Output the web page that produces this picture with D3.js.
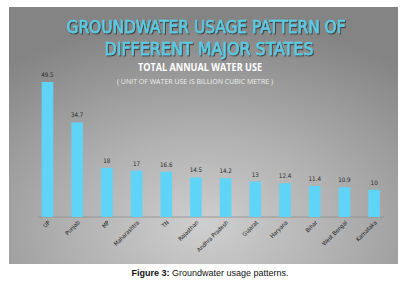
<!DOCTYPE html>
<html>
<head>
<meta charset="utf-8">
<script src="https://cdn.jsdelivr.net/npm/d3@7"></script>
<style>
  body { margin: 0; background: #fff; }
  svg { display: block; }
</style>
</head>
<body>
<div id="chart"></div>
<script>
// data (billion cubic metre)
var states = ["UP", "Punjab", "MP", "Maharashtra", "TN", "Rajasthan", "Andhra Pradesh",
              "Gujarat", "Haryana", "Bihar", "West Bengal", "Karnataka"];
var waterUse = [49.5, 34.7, 18, 17, 16.6, 14.5, 14.2, 13, 12.4, 11.4, 10.9, 10];
var valueLabels = ["49.5", "34.7", "18", "17", "16.6", "14.5", "14.2", "13", "12.4", "11.4", "10.9", "10"];

var W = 413, H = 288;

var svg = d3.select("#chart")
    .append("svg")
    .attr("width", W)
    .attr("height", H);

// grey photographic-looking panel
var defs = svg.append("defs");
var grad = defs.append("radialGradient")
    .attr("id", "bg")
    .attr("cx", "0.5").attr("cy", "0.85").attr("r", "0.8");
grad.append("stop").attr("offset", "0").attr("stop-color", "#cfcfcf");
grad.append("stop").attr("offset", "0.45").attr("stop-color", "#b0b0b0");
grad.append("stop").attr("offset", "1").attr("stop-color", "#848484");

var shadow = defs.append("filter").attr("id", "shadow")
    .attr("x", "-5%").attr("y", "-20%").attr("width", "110%").attr("height", "140%");
shadow.append("feDropShadow")
    .attr("dx", 1).attr("dy", 1.2).attr("stdDeviation", 0.6)
    .attr("flood-color", "#2a2a2a").attr("flood-opacity", 0.75);

svg.append("rect")
    .attr("x", 9).attr("y", 7)
    .attr("width", 389).attr("height", 257)
    .attr("fill", "url(#bg)");

// titles
var titleFont = "'DejaVu Sans Condensed', 'Liberation Sans Narrow', sans-serif";
svg.append("text")
    .attr("x", 206).attr("y", 32.5)
    .attr("text-anchor", "middle")
    .attr("font-family", titleFont)
    .attr("font-size", 18.5)
    .attr("fill", "#5ccbe4")
    .attr("stroke", "#5ccbe4").attr("stroke-width", 0.6)
    .attr("filter", "url(#shadow)")
    .attr("textLength", 279).attr("lengthAdjust", "spacingAndGlyphs")
    .text("GROUNDWATER USAGE PATTERN OF");

svg.append("text")
    .attr("x", 209).attr("y", 54.5)
    .attr("text-anchor", "middle")
    .attr("font-family", titleFont)
    .attr("font-size", 18.5)
    .attr("fill", "#5ccbe4")
    .attr("stroke", "#5ccbe4").attr("stroke-width", 0.6)
    .attr("filter", "url(#shadow)")
    .attr("textLength", 209).attr("lengthAdjust", "spacingAndGlyphs")
    .text("DIFFERENT MAJOR STATES");

svg.append("text")
    .attr("x", 200).attr("y", 71)
    .attr("text-anchor", "middle")
    .attr("font-family", "'Open Sans', sans-serif")
    .attr("font-weight", "bold")
    .attr("font-size", 10.3)
    .attr("fill", "#ffffff")
    .attr("textLength", 124).attr("lengthAdjust", "spacingAndGlyphs")
    .text("TOTAL ANNUAL WATER USE");

svg.append("text")
    .attr("x", 195).attr("y", 84)
    .attr("text-anchor", "middle")
    .attr("font-family", "'Open Sans', sans-serif")
    .attr("font-size", 7.5)
    .attr("fill", "#eeeeee")
    .attr("textLength", 156).attr("lengthAdjust", "spacingAndGlyphs")
    .text("( UNIT OF WATER USE IS BILLION CUBIC METRE )");

// scales
var x = d3.scaleBand()
    .domain(states)
    .range([32.6, 389])
    .paddingInner(0.61)
    .paddingOuter(0.305);

var y = d3.scaleLinear()
    .domain([0, 49.5])
    .range([217, 82]);

// baseline
svg.append("line")
    .attr("x1", 38).attr("x2", 384)
    .attr("y1", y(0)).attr("y2", y(0))
    .attr("stroke", "#8e8e8e")
    .attr("stroke-width", 0.8);

// bars
svg.selectAll(".bar")
    .data(states)
    .enter()
    .append("rect")
    .attr("class", "bar")
    .attr("x", function (d) { return x(d); })
    .attr("width", x.bandwidth())
    .attr("y", function (d, i) { return y(waterUse[i]); })
    .attr("height", function (d, i) { return y(0) - y(waterUse[i]); })
    .attr("fill", "#5fd4f6");

// value labels
svg.selectAll(".val")
    .data(states)
    .enter()
    .append("text")
    .attr("class", "val")
    .attr("x", function (d) { return x(d) + x.bandwidth() / 2; })
    .attr("y", function (d, i) { return y(waterUse[i]) - 5; })
    .attr("text-anchor", "middle")
    .attr("font-family", "'Liberation Sans Narrow', 'DejaVu Sans Condensed', sans-serif")
    .attr("font-size", 6.2)
    .attr("fill", "#2a2a2a")
    .text(function (d, i) { return valueLabels[i]; });

// rotated category labels
svg.selectAll(".cat")
    .data(states)
    .enter()
    .append("text")
    .attr("class", "cat")
    .attr("transform", function (d) {
        return "translate(" + (x(d) + x.bandwidth() / 2 + 3) + "," + (y(0) + 6) + ") rotate(-45)";
    })
    .attr("text-anchor", "end")
    .attr("font-family", "'Liberation Sans Narrow', 'DejaVu Sans Condensed', sans-serif")
    .attr("font-size", 5.8)
    .attr("fill", "#1e1e1e")
    .text(function (d) { return d; });

// caption
var cap = svg.append("text")
    .attr("x", 210).attr("y", 276)
    .attr("text-anchor", "middle")
    .attr("font-family", "'Liberation Sans', Arial, sans-serif")
    .attr("font-size", 9)
    .attr("fill", "#111");
cap.append("tspan").attr("font-weight", "bold").text("Figure 3:");
cap.append("tspan").text(" Groundwater usage patterns.");
</script>
</body>
</html>
